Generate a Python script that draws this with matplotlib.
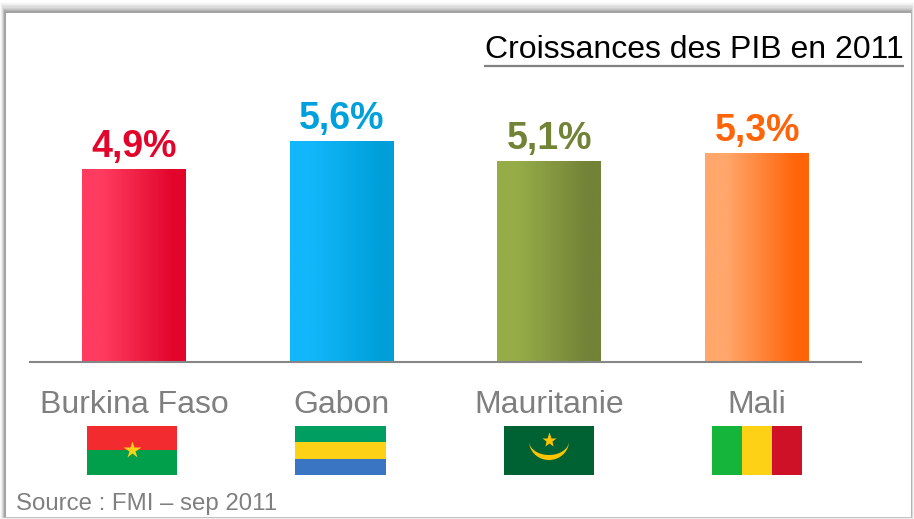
import numpy as np
import matplotlib.pyplot as plt
from matplotlib.colors import LinearSegmentedColormap
from matplotlib.patches import Rectangle, Polygon

plt.rcParams['font.family'] = ['Liberation Sans', 'DejaVu Sans']

# data
pays = ['Burkina Faso', 'Gabon', 'Mauritanie', 'Mali']
croissance = [4.9, 5.6, 5.1, 5.3]
etiquettes = ['4,9%', '5,6%', '5,1%', '5,3%']
titre = 'Croissances des PIB en 2011'
source = 'Source : FMI \u2013 sep 2011'

# colours: left of the bar, right of the bar, value label
couleurs_debut = ['#ff3b5f', '#12b7fb', '#96ac48', '#ffa76c']
couleurs_fin = ['#e2042b', '#009fd9', '#728237', '#ff6408']
couleurs_texte = ['#e2042b', '#00a0dc', '#728237', '#ff6408']

W, H = 914, 519
GRIS = '#7f7f7f'

fig = plt.figure(figsize=(W / 100, H / 100), dpi=100)

# =====================================================================
# FRAME WITH SOFT SHADOW (overlay in pixel coordinates)
# =====================================================================
bg = fig.add_axes([0, 0, 1, 1], zorder=0)
bg.set_xlim(0, W)
bg.set_ylim(H, 0)
bg.axis('off')

niveaux = [0.98, 0.96, 0.93, 0.90, 0.86, 0.81, 0.76, 0.70, 0.64]
n = len(niveaux)
for i, g in enumerate(niveaux):
    gauche = 0 + i * 5 / n
    haut = 2 + i * 10 / n
    droite = 914 - i * 3 / n
    bas = 519 - i * 2 / n
    bg.add_patch(Rectangle((gauche, haut), droite - gauche, bas - haut,
                           fc=str(g), ec='none'))
bg.add_patch(Rectangle((5.5, 12.5), 905, 504, fc='white', ec='none'))

# =====================================================================
# BARS
# =====================================================================
ax = fig.add_axes([30 / W, 1 - 362 / H, 831 / W, 262 / H], zorder=1)
ax.patch.set_alpha(0)
x = np.arange(len(pays))
barres = ax.bar(x, croissance, width=0.5, color='none')

rampe = np.linspace(0, 1, 256).reshape(1, -1)
for b, c0, c1 in zip(barres, couleurs_debut, couleurs_fin):
    cmap = LinearSegmentedColormap.from_list(
        'barre', [(0, c0), (0.2, c0), (0.88, c1), (1, c1)], N=256)
    im = ax.imshow(rampe, cmap=cmap, aspect='auto', zorder=2,
                   extent=[b.get_x(), b.get_x() + b.get_width(), 0, b.get_height()])
    im.set_clip_path(b)
ax.set_xlim(-0.5, 3.5)
ax.set_ylim(0, 262 / 39.4)

for i, v in enumerate(croissance):
    ax.annotate(etiquettes[i], (x[i], v), xytext=(0, 4), textcoords='offset pixels',
                ha='center', va='bottom', fontsize=27, fontweight='bold',
                color=couleurs_texte[i])

for s in ['top', 'left', 'right']:
    ax.spines[s].set_visible(False)
ax.spines['bottom'].set_color('#868686')
ax.spines['bottom'].set_linewidth(1.5)
ax.set_yticks([])
ax.set_xticks(x)
ax.set_xticklabels(pays, fontsize=23, color=GRIS)
ax.tick_params(axis='x', length=0, pad=20)

# =====================================================================
# TITLE, SOURCE AND FLAGS (pixel coordinates)
# =====================================================================
top = fig.add_axes([0, 0, 1, 1], zorder=2)
top.patch.set_alpha(0)
top.set_xlim(0, W)
top.set_ylim(H, 0)
top.axis('off')

top.text(903.5, 50, titre, ha='right', va='center', fontsize=23, color='black')
top.plot([484, 904], [65.5, 65.5], color='#808080', lw=1.6, solid_capstyle='butt')
top.text(16, 504, source, ha='left', va='center', fontsize=17.3, color=GRIS)


def rect(x0, y0, x1, y1, couleur):
    top.add_patch(Rectangle((x0, y0), x1 - x0, y1 - y0, fc=couleur, ec='none'))


# Burkina Faso
rect(87, 426, 177, 450, '#f22c2e')
rect(87, 450, 177, 475, '#019e4c')
top.plot([132], [450], marker='*', ms=13, color='#fcd116', mec='none')

# Gabon
rect(295, 426, 386, 442, '#009e60')
rect(295, 442, 386, 459, '#fcd116')
rect(295, 459, 386, 475, '#3a75c4')

# Mauritanie
rect(504, 426, 594, 475, '#006233')
t = np.linspace(0, np.pi, 60)
ext = np.column_stack([549 + 20 * np.cos(t), 441 + 19 * np.sin(t)])
inte = np.column_stack([549 + 20 * np.cos(t[::-1]), 441 + 14 * np.sin(t[::-1])])
top.add_patch(Polygon(np.vstack([ext, inte]), closed=True, fc='#ffc400', ec='none'))
top.plot([549], [440], marker='*', ms=11, color='#ffc400', mec='none')

# Mali
rect(712, 426, 742, 475, '#14b53a')
rect(742, 426, 772, 475, '#fcd116')
rect(772, 426, 802, 475, '#ce1126')

fig.savefig('out.png', dpi=100)
